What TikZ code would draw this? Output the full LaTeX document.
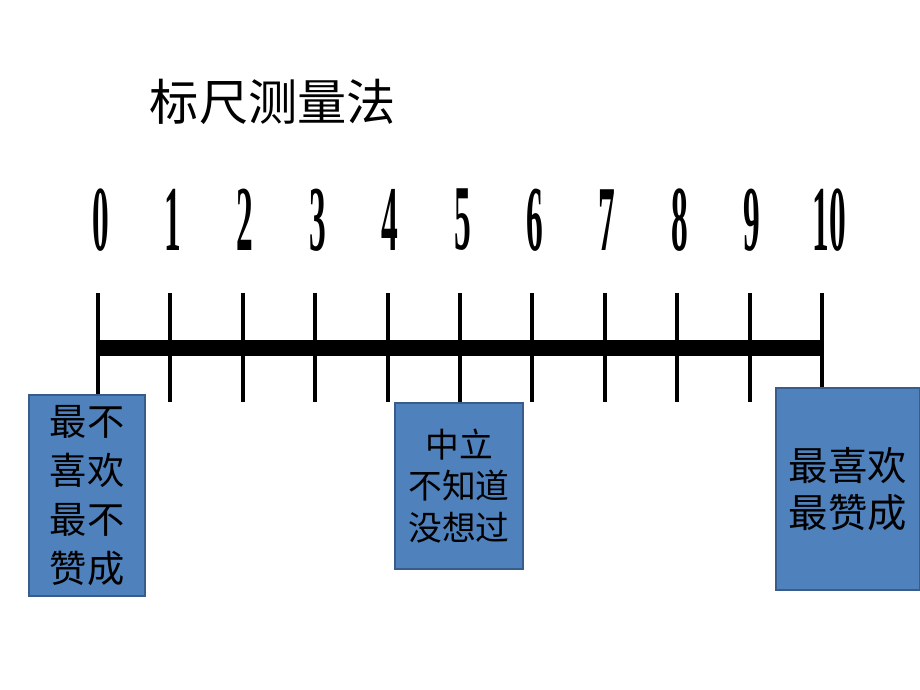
\documentclass[tikz,border=0pt]{standalone}
\usepackage{fontspec}
\setmainfont{Liberation Serif}
\newfontfamily\cjk{Noto Sans CJK SC}
\usetikzlibrary{positioning}
\definecolor{BoxBlue}{HTML}{4F81BD}
\definecolor{BoxEdge}{HTML}{385D8A}

\begin{document}
\begin{tikzpicture}[x=0.025cm, y=-0.025cm,
  mainbar/.style={line width=11.5pt, black},
  scaletick/.style={line width=2.8pt, black},
  digit/.style={font=\bfseries\fontsize{66}{70}\selectfont, inner sep=0pt},
  answerbox/.style={rectangle, draw=BoxEdge, line width=1.4pt, fill=BoxBlue, inner sep=0pt, align=center},
  title/.style={font=\cjk\fontsize{35}{40}\selectfont}
]
\useasboundingbox (0,0) rectangle (920,690);

% Title
\node[title] (title) at (273,102) {标尺测量法};

% Ticks and digits
\foreach \i in {0,...,9} {
  \pgfmathsetmacro{\xx}{98+72.4*\i}
  \draw[scaletick] (\xx,293) -- (\xx,402);
  \node[digit] (n\i) at (\xx+2.5,220) {\scalebox{0.36}[1]{\i}};
}
\draw[scaletick] (822,293) -- (822,402);
\node[digit] (n10) at (829,220) {\scalebox{0.36}[1]{10}};

% Main bar
\draw[mainbar] (98,348) -- (822,348);

% Answer boxes
\node[answerbox, minimum width=2.9cm, minimum height=5.02cm,
  font=\cjk\fontsize{26.5}{35}\selectfont] (least) at (87,495.5)
  {最不\\喜欢\\最不\\赞成};
\node[answerbox, minimum width=3.2cm, minimum height=4.15cm,
  font=\cjk\fontsize{24}{29.5}\selectfont] (neutral) at (459,486)
  {中立\\不知道\\没想过};
\node[answerbox, minimum width=3.6cm, minimum height=5.05cm,
  font=\cjk\fontsize{28}{33.5}\selectfont] (most) at (848,489)
  {最喜欢\\最赞成};

\end{tikzpicture}
\end{document}
